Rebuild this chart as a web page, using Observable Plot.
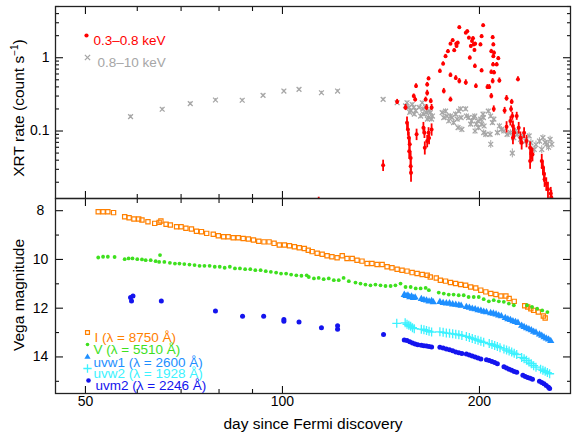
<!DOCTYPE html>
<html><head><meta charset="utf-8">
<script src="https://cdn.jsdelivr.net/npm/d3@7"></script>
<script src="https://cdn.jsdelivr.net/npm/@observablehq/plot@0.6"></script>
<style>
body{margin:0;background:#fff;}
#c{position:relative;width:573px;height:437px;font-family:'Liberation Sans',Arial,Helvetica,sans-serif;}
#c svg{position:absolute;left:0;}
.ttl{position:absolute;white-space:nowrap;font-size:15.5px;color:#000;line-height:1;transform:translate(-50%,-50%);}
.rot{transform:translate(-50%,-50%) rotate(-90deg);}
.ttl sup{font-size:10px;vertical-align:0;position:relative;top:-6px;}
</style></head><body><div id="c"></div>
<script>
// ---------------- data ----------------
const xDomain = [45, 275.5];
const xMajorTicks = [50, 100, 200];
const xMinorTicks = [60, 70, 80, 90];
const rateDomain = [0.012, 5];
const rateMajorTicks = [0.1, 1];
const rateMinorTicks = [0.02,0.03,0.04,0.05,0.06,0.07,0.08,0.09,0.2,0.3,0.4,0.5,0.6,0.7,0.8,0.9,2,3,4,5];
const magDomain = [7.5, 15.5];
const magMajorTicks = [8, 10, 12, 14];
const magMinorTicks = [9, 11, 13, 15];
const xTitle = "day since Fermi discovery";
const rateTitle = ["XRT rate (count s", "\u22121", ")"];
const magTitle = "Vega magnitude";
const xrtLabels = ["0.3\u20130.8 keV", "0.8\u201310 keV"];
const uvotLabels = ["I (\u03bb = 8750 \u00c5)", "V (\u03bb = 5510 \u00c5)", "uvw1 (\u03bb = 2600 \u00c5)", "uvw2 (\u03bb = 1928 \u00c5)", "uvm2 (\u03bb = 2246 \u00c5)"];

// [day, rate, error] 0.3-0.8 keV
const softXRT = [
[113.6,0.011,0.0015],[142.5,0.034,0.006],[149.7,0.25,0.02],[154.2,0.21,0.02],[155,0.13,0.025],[155.5,0.105,0.02],[156,0.081,0.016],
[156.5,0.066,0.014],[156.2,0.053,0.012],[157,0.043,0.01],[157,0.033,0.008],[157.2,0.027,0.007],[158.7,0.3,0.02],[159.5,0.27,0.02],
[160,0.41,0.03],[160.3,0.09,0.016],[164.2,0.111,0.02],[164.8,0.095,0.016],[165,0.059,0.012],[165.5,0.27,0.02],[166,0.21,0.02],
[166.4,0.43,0.03],[166.4,0.33,0.03],[166.4,0.073,0.014],[167.2,0.52,0.03],[167.2,0.095,0.016],[167.5,0.08,0.015],[168.5,0.256,0.02],
[169,0.21,0.02],[169,0.105,0.02],[174,0.66,0.04],[176,0.83,0.05],[176.4,0.351,0.03],[177.5,1.05,0.06],[179,1.23,0.07],[180.6,1.55,0.08],
[180.6,0.58,0.04],[180.6,0.27,0.02],[182,1.73,0.09],[183,1.26,0.07],[184,0.53,0.04],[184.3,1.55,0.08],[184.5,1.44,0.08],[185.3,1.6,0.08],
[186.3,2.6,0.12],[186.3,0.48,0.04],[190.6,0.46,0.04],[190.6,2.2,0.1],[191.6,2.3,0.1],[192.7,1.88,0.09],[193.3,1.0,0.06],[194,1.44,0.08],
[194.8,1.69,0.09],[195.5,1.85,0.09],[196,1.52,0.08],[196.5,1.27,0.07],[196.8,0.77,0.05],[197,1.55,0.08],[197.5,0.41,0.03],[200.7,1.52,0.08],
[201.5,1.97,0.1],[201.5,0.67,0.04],[202.6,2.77,0.12],[205.7,0.4,0.03],[207,0.4,0.03],[208.5,1.23,0.07],[208.5,0.64,0.04],[208.5,0.3,0.025],
[209.5,1.91,0.1],[209.5,0.48,0.04],[209.8,0.81,0.05],[210,1.52,0.08],[210,1.05,0.06],[210.3,0.2,0.02],[210.5,1.17,0.07],[210.5,0.63,0.04],
[212.5,0.81,0.05],[213.7,0.98,0.06],[214.5,0.49,0.04],[218.5,0.19,0.02],[220,0.28,0.025],[220,0.114,0.02],[223,0.137,0.02],[223.5,0.2,0.02],
[224,0.25,0.02],[224.5,0.16,0.02],[225,0.117,0.02],[225,0.081,0.016],[226,0.095,0.016],[228,0.16,0.02],[229,0.51,0.04],[229.6,0.111,0.02],
[231,0.081,0.016],[232,0.069,0.014],[234,0.095,0.016],[236,0.073,0.014],[239,0.059,0.012],[240,0.05,0.01],[239,0.039,0.009],[241,0.048,0.01],
[249,0.039,0.009],[250,0.032,0.007],[251,0.026,0.006],[251.5,0.022,0.005],[253,0.019,0.004],[254.5,0.016,0.004],[257,0.014,0.003],[257.5,0.0125,0.003]
];
// [day, rate, error] 0.8-10 keV
const hardXRT = [
[58.6,0.157,0.008],[65.5,0.198,0.01],[72.3,0.236,0.012],[79,0.265,0.012],[86.8,0.263,0.012],[93.4,0.307,0.014],[100.5,0.351,0.015],
[106,0.37,0.016],[114.7,0.333,0.015],[121.4,0.351,0.015],[142.5,0.27,0.013],[149.7,0.243,0.012],
[154.2,0.22,0.015],[155,0.243,0.015],[156,0.21,0.015],[157,0.19,0.014],[157.8,0.23,0.015],[156.5,0.18,0.014],[158.7,0.21,0.015],
[159,0.17,0.013],[159.8,0.19,0.014],[161.7,0.21,0.015],[162.6,0.16,0.013],[163.5,0.243,0.015],[163.8,0.2,0.014],[164.3,0.17,0.013],
[165.5,0.21,0.015],[166,0.178,0.013],[166.5,0.145,0.012],[167.2,0.152,0.012],[167.5,0.187,0.014],[168.2,0.178,0.013],[169,0.145,0.012],
[169.5,0.16,0.012],[175.4,0.178,0.013],[176.4,0.152,0.012],[177.5,0.187,0.014],[178.5,0.16,0.012],[179.5,0.137,0.011],[180.6,0.16,0.012],
[181.6,0.152,0.012],[182.6,0.13,0.011],[183.9,0.17,0.013],[184.9,0.145,0.012],[185.5,0.111,0.01],[185.9,0.187,0.014],[187.2,0.2,0.014],
[187.5,0.152,0.012],[188,0.105,0.01],[190.5,0.2,0.014],[191,0.16,0.012],[192.5,0.152,0.012],[193.9,0.124,0.011],[194.5,0.137,0.011],
[196,0.152,0.012],[196.7,0.16,0.012],[196.9,0.1,0.01],[197.8,0.124,0.011],[199,0.137,0.011],[199.3,0.111,0.01],[200.9,0.145,0.012],
[201.5,0.124,0.011],[202.5,0.17,0.013],[202.8,0.152,0.012],[203,0.095,0.009],[203.3,0.117,0.01],[204.5,0.09,0.009],[206.3,0.187,0.014],
[207.6,0.09,0.009],[208,0.16,0.012],[208.1,0.066,0.008],[209.3,0.13,0.011],[210.4,0.145,0.012],[213,0.095,0.009],[214.5,0.117,0.01],
[216,0.105,0.01],[217.9,0.1,0.009],[220.4,0.09,0.009],[223,0.095,0.009],[224.5,0.05,0.007],[225.7,0.081,0.008],[227,0.1,0.009],
[228.5,0.09,0.009],[231.2,0.077,0.008],[233,0.085,0.008],[235.4,0.073,0.008],[238.2,0.086,0.008],[239.7,0.069,0.008],[242.5,0.056,0.007],
[244,0.065,0.008],[247,0.073,0.008],[249,0.056,0.007],[250,0.081,0.008],[252,0.07,0.008],[253.3,0.066,0.008],[255,0.06,0.007],
[256.4,0.077,0.008],[258,0.066,0.008]
];
// [day, Vega magnitude]
const bandI = [
[52.3,8.04],[53.2,8.04],[54.1,8.04],[55.2,8.08],[57.4,8.25],[58.3,8.29],[59.3,8.34],[60.3,8.34],[61,8.38],[62.3,8.45],[63.8,8.52],
[64.8,8.48],[65.2,8.42],[66.4,8.56],[67.4,8.59],[68.9,8.66],[70,8.66],[71.2,8.72],[72.6,8.75],[73.9,8.84],[75.2,8.86],[76.6,8.93],
[78.4,8.97],[79.8,9.03],[81.3,9.07],[82.6,9.07],[84.1,9.11],[85.6,9.11],[87.1,9.14],[88.7,9.16],[90.3,9.2],[92,9.25],[93.7,9.28],
[95.4,9.28],[97.1,9.34],[98.9,9.41],[100.7,9.41],[102.5,9.44],[104.3,9.48],[106.1,9.52],[108,9.55],[109.5,9.62],[111,9.68],[113,9.75],
[115,9.79],[117,9.85],[119,9.89],[121.2,9.93],[123.4,9.85],[125.5,9.96],[127.8,9.96],[130,10.03],[132.3,10.07],[134.7,10.17],[137,10.17],
[139.5,10.21],[142,10.21],[144.5,10.3],[147,10.34],[149.7,10.4],[152.3,10.44],[155,10.48],[157.8,10.54],[160.6,10.58],[163.5,10.62],
[166.4,10.65],[168.2,10.72],[171.8,10.76],[174.3,10.85],[177.5,10.89],[180.6,10.95],[183.9,10.99],[187.2,11.03],[190.5,11.06],
[193.9,11.13],[197.4,11.17],[200.9,11.26],[204.5,11.33],[208.1,11.4],[211.9,11.44],[215.6,11.5],[219.5,11.5],[222,11.6],[226,11.72],
[234.5,11.9],[237,11.95],[239.6,12.02],[242,12.09],[246,12.16],[250.4,12.32],[252,12.4]
];
const bandV = [
[52.3,9.92],[53.2,9.89],[54.1,9.89],[55.4,9.9],[57.4,9.99],[58.2,9.96],[59,9.96],[60,9.99],[61,10.0],[61.8,10.03],[62.9,10.03],[64,10.07],
[64.8,10.1],[65,9.82],[66,10.1],[67.3,10.14],[68.5,10.17],[69.6,10.17],[70.8,10.19],[72.1,10.21],[73.4,10.23],[74.7,10.26],[76,10.26],
[77.4,10.26],[78.8,10.3],[80.2,10.3],[81.6,10.34],[83.1,10.3],[84.6,10.37],[86.1,10.37],[87.7,10.4],[89.3,10.4],[90.9,10.44],[92.6,10.44],
[94.3,10.48],[96,10.51],[97.8,10.54],[99.5,10.58],[101.3,10.58],[103.1,10.62],[105,10.65],[106.9,10.67],[108.9,10.65],[109.7,10.72],
[111.7,10.78],[113.6,10.76],[115.6,10.81],[117.7,10.78],[119.8,10.85],[121.9,10.85],[124,10.76],[126.3,10.89],[129.3,10.95],[131.6,10.99],
[133.9,11.03],[136.3,11.06],[138.7,11.03],[141.2,11.06],[143.7,11.09],[146.3,11.09],[148.8,11.06],[151.5,10.99],[154.2,11.13],[157,11.13],
[159.8,11.19],[162.6,11.19],[165.5,11.17],[167.4,11.26],[173.3,11.36],[176.4,11.4],[179.5,11.44],[182.6,11.44],[185.9,11.47],[189.2,11.47],
[192.5,11.54],[196,11.54],[199.5,11.54],[203,11.63],[206.7,11.72],[210.3,11.67],[214.1,11.72],[217.9,11.74],[221.8,11.81],[225.7,11.88],
[236.4,11.88],[240.6,11.95],[245,12.02],[249.4,12.09],[254,12.16]
];
const bandUVW1 = [
[153.5,11.45],[154.5,11.5],[155.5,11.48],[156.5,11.55],[157.5,11.52],[158.5,11.58],[159.5,11.56],
[163,11.62],[164.5,11.66],[166,11.68],[167.5,11.72],[169,11.7],[170,11.75],
[174,11.74],[176,11.78],[178,11.8],[180,11.8],[182,11.84],[184,11.86],[186,11.88],[187.5,11.9],
[191,11.95],[193,11.98],[195,12.02],[197,12.04],[199,12.08],[201,12.1],[203,12.14],[205,12.16],
[208,12.2],[210,12.22],[212,12.25],[214,12.3],[216,12.33],
[219,12.4],[221,12.45],[223,12.48],[225,12.53],[227,12.56],[229,12.6],
[232,12.72],[234,12.77],[236,12.82],[238,12.86],[240,12.9],[242,12.96],[244,13.0],
[247,13.08],[249,13.13],[251,13.19],[253,13.24],[255,13.28],[257,13.34]
];
const bandUVW2 = [
[149.5,12.62],
[154,12.6],[155,12.66],[156,12.7],[157,12.74],[158,12.8],[159,12.84],
[163,12.86],[164.5,12.88],[166,12.92],[167.5,12.95],[169,12.98],
[174,12.97],[176,12.99],[178,13.02],[180,13.03],[182,13.05],[184,13.07],[186,13.09],[188,13.12],
[191,13.16],[193,13.2],[195,13.24],[197,13.28],[199,13.32],[201,13.36],[203,13.4],
[207,13.45],[209,13.49],[211,13.53],[213,13.57],[215,13.62],
[218,13.67],[220,13.72],[222,13.76],[224,13.8],[226,13.85],[228,13.9],
[232,14.02],[234,14.07],[236,14.14],[238,14.21],[240,14.28],[242,14.36],[244,14.42],
[248,14.5],[250,14.55],[252,14.59],[254,14.64],[256,14.69]
];
const bandUVM2 = [
[58.6,11.56],[58.8,11.7],[59.1,11.5],[65.3,11.7],[79,12.12],[86.9,12.33],[93.6,12.33],[100.5,12.46],[100.5,12.54],[106,12.57],
[114.7,12.8],[121.4,12.72],[121.4,12.86],[142.7,13.08],
[153.5,13.3],[155,13.33],[156.5,13.38],[158,13.43],[159.5,13.47],[161,13.5],
[163,13.52],[164.5,13.54],[166,13.55],[167.5,13.57],[169,13.59],
[174,13.6],[176,13.63],[178,13.67],[180,13.7],[182,13.75],[184,13.8],[186,13.83],[188,13.86],
[191,13.88],[193,13.92],[195,13.96],[197,14.0],[199,14.04],[201,14.08],
[205,14.12],[207,14.15],[209,14.19],[211,14.23],[213,14.28],
[218,14.4],[220,14.45],[222,14.5],[224,14.55],[226,14.6],[228,14.63],
[233,14.75],[235,14.8],[237,14.84],[239,14.87],[241,14.92],
[247,15.0],[249,15.05],[251,15.1],[253,15.17],[255,15.24],[256,15.29]
];

// ---------------- styles ----------------
const FONT = "'Liberation Sans', Arial, Helvetica, sans-serif";
const C = {red:"#ff0000", gray:"#a6a6a6", I:"#ff8000", V:"#3ee01e", uvw1:"#1e8fff", uvw2:"#3cf2ff", uvm2:"#1414ee"};
const W = 573, ML = 55, MR = 3;
const LEG = 13.5;

const toErr = a => a.map(([day, v, e]) => ({day, v, lo: v - e, hi: v + e}));
const toMag = a => a.map(([day, m]) => ({day, m}));

function boxTicks(yMajor, yMinor) {
  const o = {fill: "none", label: null, stroke: "#111", strokeWidth: 1.1};
  return [
    Plot.axisX(xMajorTicks, {...o, anchor: "bottom", tickSize: -7}),
    Plot.axisX(xMajorTicks, {...o, anchor: "top", tickSize: -7}),
    Plot.axisX(xMinorTicks, {...o, anchor: "bottom", tickSize: -4}),
    Plot.axisX(xMinorTicks, {...o, anchor: "top", tickSize: -4}),
    Plot.axisY(yMajor, {...o, anchor: "left", tickSize: -8}),
    Plot.axisY(yMajor, {...o, anchor: "right", tickSize: -8}),
    Plot.axisY(yMinor, {...o, anchor: "left", tickSize: -4}),
    Plot.axisY(yMinor, {...o, anchor: "right", tickSize: -4})
  ];
}
const legText = (s, dx, dy, fill) =>
  Plot.text([s], {text: d => d, frameAnchor: "top-left", dx, dy, textAnchor: "start", fontSize: LEG, fill});

// ---------------- top panel ----------------
const soft = toErr(softXRT), hard = toErr(hardXRT);
const topPlot = Plot.plot({
  width: W, height: 200, marginTop: 6, marginBottom: 2, marginLeft: ML, marginRight: MR,
  style: {fontFamily: FONT, fontSize: "14px", background: "transparent", color: "#000", overflow: "visible"},
  x: {type: "log", domain: xDomain, axis: null},
  y: {type: "log", domain: rateDomain, axis: null},
  marks: [
    Plot.ruleX(hard, {x: "day", y1: "lo", y2: "hi", stroke: C.gray, strokeWidth: 1, clip: true}),
    Plot.dot(hard, {x: "day", y: "v", symbol: "times", r: 2.3, stroke: C.gray, strokeWidth: 1.3, clip: true}),
    Plot.ruleX(soft, {x: "day", y1: "lo", y2: "hi", stroke: C.red, strokeWidth: 1.8, clip: true}),
    Plot.dot(soft, {x: "day", y: "v", r: 2, fill: C.red, clip: true}),
    ...boxTicks(rateMajorTicks, rateMinorTicks),
    Plot.axisY(rateMajorTicks, {anchor: "left", tickSize: 0, tickPadding: 6, tickFormat: d => String(d), label: null, fontSize: 14}),
    Plot.frame({stroke: "#222", strokeWidth: 1.3}),
    Plot.dot([0], {frameAnchor: "top-left", dx: 31, dy: 29, r: 2.1, fill: C.red}),
    legText(xrtLabels[0], 38, 29, C.red),
    Plot.dot([0], {frameAnchor: "top-left", dx: 32, dy: 51, symbol: "times", r: 2.5, stroke: C.gray, strokeWidth: 1.3}),
    legText(xrtLabels[1], 42, 51, C.gray)
  ]
});
topPlot.style.top = "0px";

// ---------------- bottom panel ----------------
const bottomPlot = Plot.plot({
  width: W, height: 241, marginTop: 2, marginBottom: 44, marginLeft: ML, marginRight: MR,
  style: {fontFamily: FONT, fontSize: "14px", background: "transparent", color: "#000", overflow: "visible"},
  x: {type: "log", domain: xDomain, axis: null},
  y: {domain: magDomain, reverse: true, axis: null},
  marks: [
    Plot.dot(toMag(bandI), {x: "day", y: "m", symbol: "square", r: 2.4, stroke: C.I, strokeWidth: 1.2, fill: "none", clip: true}),
    Plot.dot(toMag(bandV), {x: "day", y: "m", r: 1.9, fill: C.V, clip: true}),
    Plot.dot(toMag(bandUVW1), {x: "day", y: "m", symbol: "triangle", r: 2.7, fill: C.uvw1, clip: true}),
    Plot.dot(toMag(bandUVW2), {x: "day", y: "m", symbol: "plus", r: 3, stroke: C.uvw2, strokeWidth: 1.3, clip: true}),
    Plot.dot(toMag(bandUVM2), {x: "day", y: "m", r: 2.5, fill: C.uvm2, clip: true}),
    ...boxTicks(magMajorTicks, magMinorTicks),
    Plot.axisY(magMajorTicks, {anchor: "left", tickSize: 0, tickPadding: 15, textAnchor: "middle", label: null, fontSize: 14}),
    Plot.axisX(xMajorTicks, {anchor: "bottom", tickSize: 0, tickPadding: 3, tickFormat: d => String(d), label: null, fontSize: 14}),
    Plot.frame({stroke: "#222", strokeWidth: 1.3}),
    // legend
    Plot.dot([0], {frameAnchor: "top-left", dx: 32, dy: 134, symbol: "square", r: 2.2, stroke: C.I, strokeWidth: 1.2, fill: "none"}),
    Plot.dot([0], {frameAnchor: "top-left", dx: 32, dy: 146, r: 1.8, fill: C.V}),
    Plot.dot([0], {frameAnchor: "top-left", dx: 32, dy: 158.5, symbol: "triangle", r: 2.3, fill: C.uvw1}),
    Plot.dot([0], {frameAnchor: "top-left", dx: 32, dy: 170, symbol: "plus", r: 2.8, stroke: C.uvw2, strokeWidth: 1.3}),
    Plot.dot([0], {frameAnchor: "top-left", dx: 33, dy: 182, r: 2.3, fill: C.uvm2}),
    legText(uvotLabels[0], 39, 134, C.I),
    legText(uvotLabels[1], 38, 146, C.V),
    legText(uvotLabels[2], 38, 158.5, C.uvw1),
    legText(uvotLabels[3], 38, 170, C.uvw2),
    legText(uvotLabels[4], 40, 182, C.uvm2)
  ]
});
bottomPlot.style.top = "196px";

const c = document.getElementById("c");
c.appendChild(topPlot);
c.appendChild(bottomPlot);

// axis titles
function title(html, x, y, rot) {
  const d = document.createElement("div");
  d.className = "ttl" + (rot ? " rot" : "");
  d.style.left = x + "px";
  d.style.top = y + "px";
  d.innerHTML = html;
  c.appendChild(d);
}
title(rateTitle[0] + "<sup>" + rateTitle[1] + "</sup>" + rateTitle[2], 19, 108, true);
title(magTitle, 19, 295, true);
title(xTitle, 313, 424, false);
</script>
</body></html>
